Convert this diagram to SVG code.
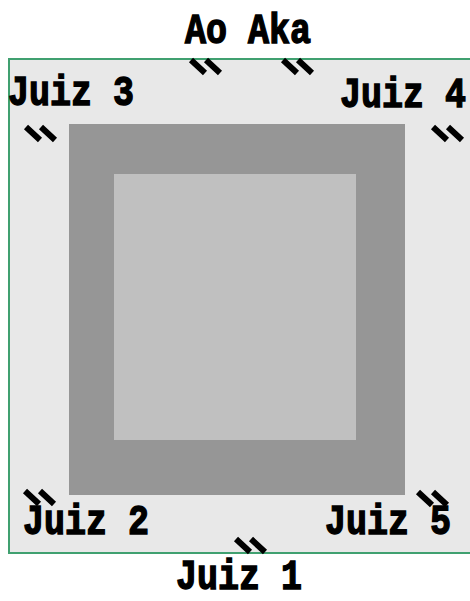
<svg xmlns="http://www.w3.org/2000/svg" width="470" height="601" viewBox="0 0 470 601">
<style>
.lbl{font-family:"Liberation Mono","Courier New",monospace;font-weight:bold;font-size:35px;fill:#000;stroke:#000;stroke-width:1.2}
.mark{fill:none;stroke:#000;stroke-width:6}
</style>
<defs>
<path id="flag" class="mark" d="M0,0 l14,13 M15,0 l14,13"/>
</defs>
<rect width="470" height="601" fill="#ffffff"/>
<g id="area">
<rect x="9" y="59" width="470" height="494" fill="#e8e8e8" stroke="#40a070" stroke-width="2"/>
</g>
<g id="safety">
<rect x="69" y="124" width="336" height="371" fill="#969696"/>
</g>
<g id="competition">
<rect x="114" y="174" width="242" height="266" fill="#c0c0c0"/>
</g>
<g id="connectors">
<use href="#flag" x="191" y="60"/>
<use href="#flag" x="283" y="60"/>
<use href="#flag" x="26" y="127"/>
<use href="#flag" x="433" y="127"/>
<use href="#flag" x="25" y="491"/>
<use href="#flag" x="418" y="492"/>
<use href="#flag" x="236" y="539"/>
</g>
<g id="aoaka"><text class="lbl" transform="translate(185,43) scale(1,1.22)">Ao Aka</text></g>
<g id="juiz3"><text class="lbl" transform="translate(8,105) scale(1,1.22)">Juiz 3</text></g>
<g id="juiz4"><text class="lbl" transform="translate(340,107) scale(1,1.22)">Juiz 4</text></g>
<g id="juiz2"><text class="lbl" transform="translate(23,534) scale(1,1.22)">Juiz 2</text></g>
<g id="juiz5"><text class="lbl" transform="translate(325,534) scale(1,1.22)">Juiz 5</text></g>
<g id="juiz1"><text class="lbl" transform="translate(176,589) scale(1,1.22)">Juiz 1</text></g>
</svg>
